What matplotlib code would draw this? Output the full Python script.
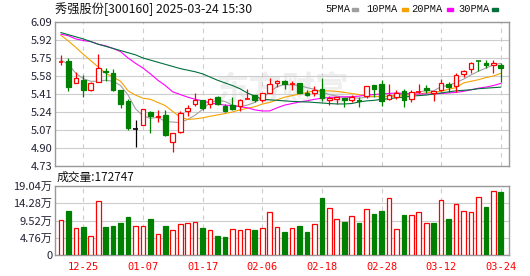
import matplotlib
matplotlib.use("Agg")
import matplotlib.pyplot as plt
from matplotlib.patches import Rectangle
import numpy as np

plt.rcParams['font.family'] = ['Noto Sans CJK SC', 'DejaVu Sans']

# daily OHLC, 2024-12-20 .. 2025-03-24
opens = [5.71, 5.72, 5.51, 5.54, 5.45, 5.52, 5.63, 5.61, 5.45, 5.34,
         5.08, 5.12, 5.24, 5.19, 5.21, 4.96, 5.05, 5.25, 5.32, 5.35,
         5.32, 5.38, 5.30, 5.31, 5.30, 5.36, 5.40, 5.35, 5.42, 5.51,
         5.53, 5.50, 5.51, 5.42, 5.42, 5.46, 5.35, 5.36, 5.375, 5.35,
         5.355, 5.39, 5.495, 5.50, 5.36, 5.385, 5.44, 5.36, 5.43, 5.47,
         5.42, 5.45, 5.505, 5.49, 5.60, 5.645, 5.72, 5.70, 5.685, 5.685]
highs = [5.78, 5.75, 5.62, 5.59, 5.52, 5.79, 5.66, 5.65, 5.45, 5.36,
         5.165, 5.27, 5.25, 5.26, 5.26, 5.04, 5.25, 5.31, 5.42, 5.35,
         5.37, 5.39, 5.32, 5.38, 5.36, 5.46, 5.40, 5.42, 5.56, 5.54,
         5.54, 5.53, 5.51, 5.45, 5.485, 5.565, 5.39, 5.385, 5.375, 5.40,
         5.38, 5.485, 5.495, 5.54, 5.50, 5.45, 5.455, 5.45, 5.505, 5.495,
         5.44, 5.55, 5.525, 5.61, 5.64, 5.715, 5.72, 5.73, 5.73, 5.705]
lows = [5.68, 5.44, 5.51, 5.385, 5.44, 5.52, 5.53, 5.44, 5.28, 5.07,
        4.91, 5.12, 5.04, 5.15, 5.01, 4.86, 5.04, 5.20, 5.30, 5.26,
        5.28, 5.31, 5.24, 5.26, 5.25, 5.36, 5.33, 5.33, 5.42, 5.48,
        5.46, 5.45, 5.415, 5.39, 5.39, 5.345, 5.305, 5.32, 5.285, 5.33,
        5.285, 5.37, 5.385, 5.30, 5.355, 5.36, 5.29, 5.33, 5.42, 5.415,
        5.345, 5.44, 5.43, 5.43, 5.575, 5.61, 5.63, 5.66, 5.61, 5.525]
closes = [5.715, 5.48, 5.56, 5.45, 5.51, 5.66, 5.62, 5.45, 5.32, 5.09,
          5.08, 5.27, 5.20, 5.20, 5.02, 5.04, 5.23, 5.28, 5.35, 5.28,
          5.36, 5.32, 5.25, 5.265, 5.35, 5.365, 5.35, 5.42, 5.50, 5.53,
          5.50, 5.505, 5.42, 5.40, 5.45, 5.37, 5.375, 5.385, 5.35, 5.38,
          5.34, 5.485, 5.46, 5.34, 5.40, 5.42, 5.35, 5.43, 5.435, 5.45,
          5.44, 5.51, 5.48, 5.59, 5.63, 5.705, 5.715, 5.68, 5.705, 5.655]

# moving averages as drawn on the chart
ma5 = [5.73, 5.69, 5.605, 5.555, 5.53, 5.53, 5.54, 5.53, 5.49, 5.40,
       5.27, 5.205, 5.18, 5.19, 5.15, 5.145, 5.14, 5.17, 5.21, 5.265,
       5.33, 5.35, 5.34, 5.305, 5.29, 5.305, 5.33, 5.37, 5.43, 5.48,
       5.50, 5.495, 5.49, 5.47, 5.455, 5.43, 5.405, 5.39, 5.38, 5.375,
       5.37, 5.38, 5.385, 5.385, 5.39, 5.40, 5.41, 5.42, 5.43, 5.44,
       5.44, 5.48, 5.49, 5.52, 5.55, 5.59, 5.625, 5.655, 5.685, 5.70]
ma10 = [5.965, 5.91, 5.85, 5.785, 5.725, 5.665, 5.605, 5.57, 5.53, 5.44,
        5.40, 5.37, 5.36, 5.33, 5.30, 5.245, 5.19, 5.17, 5.175, 5.185,
        5.20, 5.212, 5.225, 5.24, 5.26, 5.275, 5.29, 5.315, 5.33, 5.355,
        5.38, 5.395, 5.41, 5.425, 5.44, 5.44, 5.44, 5.435, 5.425, 5.415,
        5.405, 5.39, 5.388, 5.386, 5.386, 5.39, 5.395, 5.405, 5.41, 5.42,
        5.43, 5.435, 5.455, 5.47, 5.515, 5.53, 5.545, 5.565, 5.58, 5.605]
ma20 = [5.975, 5.96, 5.93, 5.915, 5.905, 5.88, 5.865, 5.84, 5.81, 5.75,
        5.70, 5.655, 5.60, 5.54, 5.49, 5.43, 5.405, 5.38, 5.36, 5.345,
        5.325, 5.315, 5.305, 5.30, 5.29, 5.28, 5.26, 5.25, 5.25, 5.28,
        5.305, 5.32, 5.335, 5.345, 5.36, 5.37, 5.377, 5.38, 5.383, 5.385,
        5.39, 5.40, 5.405, 5.41, 5.415, 5.42, 5.415, 5.41, 5.41, 5.41,
        5.41, 5.415, 5.42, 5.425, 5.435, 5.45, 5.465, 5.475, 5.49, 5.51]
ma30 = [5.99, 5.97, 5.95, 5.93, 5.905, 5.88, 5.86, 5.84, 5.82, 5.80,
        5.78, 5.75, 5.73, 5.71, 5.69, 5.67, 5.65, 5.635, 5.62, 5.60,
        5.57, 5.54, 5.515, 5.49, 5.46, 5.42, 5.39, 5.36, 5.355, 5.35,
        5.345, 5.34, 5.337, 5.335, 5.33, 5.325, 5.32, 5.316, 5.316, 5.32,
        5.335, 5.345, 5.35, 5.36, 5.365, 5.375, 5.38, 5.39, 5.395, 5.40,
        5.41, 5.42, 5.43, 5.44, 5.445, 5.45, 5.46, 5.465, 5.47, 5.475]

volumes = [97600, 122700, 74300, 78000, 53000, 149600, 78000, 80900, 89200, 106000,
           80000, 80000, 100400, 57600, 80900, 68800, 86400, 89200, 92000, 75300,
           68800, 53000, 50200, 71500, 68800, 71500, 69700, 74300, 119000, 77100,
           62300, 74300, 80900, 62300, 86400, 156000, 130000, 99500, 90000, 108700,
           87400, 127300, 114300, 122700, 158000, 71500, 111500, 111500, 119000, 88300,
           89200, 152400, 100400, 141300, 122700, 119000, 160800, 133800, 176500, 172747]
vol_up = [1, 0, 1, 0, 1, 1, 0, 0, 0, 0,
          1, 1, 0, 1, 0, 1, 1, 1, 1, 0,
          1, 0, 0, 1, 1, 1, 0, 1, 1, 1,
          0, 1, 0, 0, 1, 0, 1, 1, 0, 1,
          0, 1, 0, 0, 1, 1, 0, 1, 1, 1,
          0, 1, 0, 1, 1, 1, 1, 0, 1, 0]

date_idx = [3, 11, 19, 27, 35, 43, 51, 59]
date_labels = ['12-25', '01-07', '01-17', '02-06', '02-18', '02-28', '03-12', '03-24']
price_ticks = [4.73, 4.90, 5.07, 5.24, 5.41, 5.58, 5.75, 5.92, 6.09]
vol_ticks = [0, 47600, 95200, 142800, 190400]
vol_tick_labels = ['0', '4.76万', '9.52万', '14.28万', '19.04万']
ma_names = ['5PMA', '10PMA', '20PMA', '30PMA']
ma_colors = ['#a0a0a0', '#f5a300', '#ff00ff', '#00703c']

RED = '#ff0000'
GREEN = '#008000'
W, H = 530, 276

fig = plt.figure(figsize=(5.3, 2.76), dpi=100)
ax = fig.add_axes([55 / W, 1 - 166 / H, 454 / W, 144 / H])
axv = fig.add_axes([55 / W, 1 - 255 / H, 454 / W, 69 / H])

x = np.arange(len(closes))
o = np.array(opens)
c = np.array(closes)

# watermark
ax.text(0.5, 0.52, '东方财富', transform=ax.transAxes, ha='center', va='center',
        fontsize=24, fontweight='bold', color='#eeeeee', zorder=0)

# moving averages
for ma, col in zip([ma5, ma10, ma20, ma30], ma_colors):
    ax.plot(x, ma, color=col, lw=0.8, zorder=2)

# candles
for i in x:
    if abs(c[i] - o[i]) < 1e-9:
        col, face = 'black', 'black'
    elif c[i] > o[i]:
        col, face = RED, 'white'
    else:
        col, face = GREEN, GREEN
    top, bot = max(o[i], c[i]), min(o[i], c[i])
    ax.vlines(i, lows[i], highs[i], color=col, lw=0.9, zorder=3)
    if top - bot < 0.008:
        ax.hlines((top + bot) / 2, i - 0.33, i + 0.33, color=col, lw=1.2, zorder=4)
    else:
        ax.bar(i, top - bot, bottom=bot, width=0.62, facecolor=face,
               edgecolor=col, lw=0.9, zorder=4)

# volume
for i in x:
    if vol_up[i]:
        axv.bar(i, volumes[i], width=0.62, facecolor='white', edgecolor=RED, lw=0.9, zorder=3)
    else:
        axv.bar(i, volumes[i], width=0.62, facecolor=GREEN, edgecolor=GREEN, lw=0.9, zorder=3)

for a in (ax, axv):
    a.set_xlim(-0.8, 60.1)
    for s in a.spines.values():
        s.set_color('#999999')
        s.set_linewidth(1.0)
    a.tick_params(length=0, labelsize=8, labelcolor='#222233', pad=2)
    a.set_xticks(date_idx)
    a.grid(True, axis='y', color='#cccccc', lw=0.8, zorder=0)
    a.grid(True, axis='x', color='#cccccc', lw=0.8, ls=(0, (4, 4)), zorder=0)
    a.set_axisbelow(True)

ax.set_ylim(4.73, 6.09)
ax.set_yticks(price_ticks)
ax.set_yticklabels([f'{v:.2f}' for v in price_ticks])
ax.set_xticklabels([])

axv.set_ylim(0, 190400)
axv.set_yticks(vol_ticks)
axv.set_yticklabels(vol_tick_labels)
axv.set_xticklabels(date_labels, family='DejaVu Sans Mono', fontsize=7.5, color=RED)
axv.tick_params(axis='x', pad=5)

# header texts
fig.text(55 / W, 1 - 9 / H, '秀强股份[300160] 2025-03-24 15:30', fontsize=8.8,
         color='#111111', va='center', ha='left')
fig.text(57 / W, 1 - 177 / H, '成交量:172747', fontsize=8.5, color='#111111',
         va='center', ha='left')

# legend
text_x = [325, 366.5, 411.5, 458]
mark_x = [352, 401.5, 446.5, 491.5]
for name, col, tx, mx in zip(ma_names, ma_colors, text_x, mark_x):
    fig.text(tx / W, 1 - 9.5 / H, name, fontsize=7.5, color='#111111',
             va='center', ha='left', family='Liberation Mono')
    fig.patches.append(Rectangle((mx / W, 1 - 11 / H), 6 / W, 3 / H,
                                 transform=fig.transFigure, color=col))

fig.savefig('out.png', dpi=100, facecolor='white')
